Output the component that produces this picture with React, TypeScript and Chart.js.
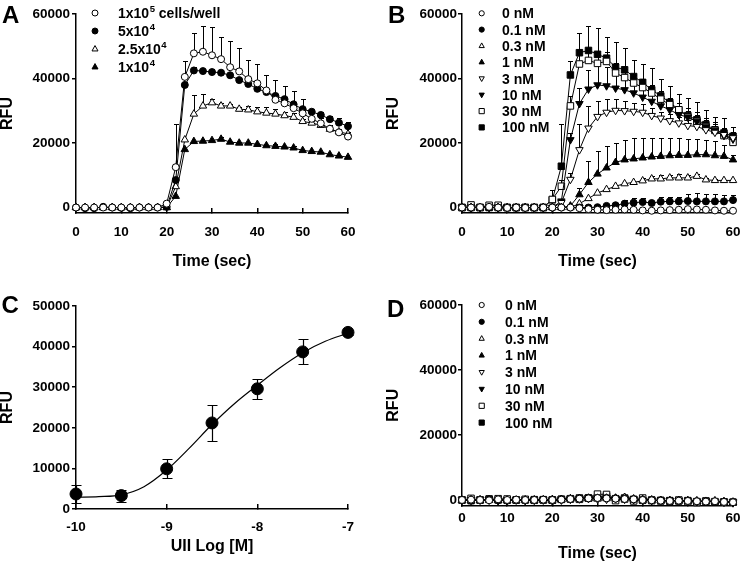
import React, { useEffect, useRef } from 'react';
import { Chart, registerables } from 'chart.js';

Chart.register(...registerables);

const FONT = '"Liberation Sans", Arial, Helvetica, sans-serif';

// ---------------- shared ----------------
const timeSec = [0, 2, 4, 6, 8, 10, 12, 14, 16, 18, 20, 22, 24, 26, 28, 30, 32, 34, 36, 38, 40, 42, 44, 46, 48, 50, 52, 54, 56, 58, 60];
const timeTickStep = 10;
const rfuTicks = [0, 20000, 40000, 60000];

// ---------------- panel A ----------------
const labelsA = ['1x10^5 cells/well', '5x10^4', '2.5x10^4', '1x10^4'];
const a1e5 = [0, 0, 0, 0, 0, 0, 0, 0, 0, 0, 1200, 12500, 40500, 47800, 48300, 47200, 46000, 43500, 42200, 39800, 38500, 36300, 33400, 32300, 30800, 29200, 27500, 26100, 24400, 23300, 22000];
const a1e5Err = [0, 0, 0, 0, 0, 0, 0, 0, 0, 0, 0, 13500, 4800, 6400, 8100, 8700, 7000, 8200, 7400, 6000, 6000, 4800, 6000, 5400, 5400, 4400, 1800, 1500, 1200, 1000, 800];
const a5e4 = [0, -200, -200, 200, 0, -100, -200, 0, 0, 0, 200, 8500, 38000, 42500, 42300, 42000, 41800, 41000, 39500, 38300, 36800, 35800, 34600, 33600, 32000, 30500, 29700, 28700, 27400, 26300, 25200];
const a5e4Err = [0, 0, 0, 0, 0, 0, 0, 0, 0, 0, 0, 0, 1000, 1000, 800, 800, 800, 800, 800, 800, 800, 800, 800, 800, 800, 800, 0, 800, 900, 1400, 1200];
const a25e3 = [0, 0, 0, 0, 0, 0, 0, 0, 0, 0, 0, 6500, 21000, 29000, 31500, 32500, 31500, 31500, 30500, 30300, 29700, 29300, 29000, 28500, 28000, 26700, 26200, 25500, 24300, 23500, 22800];
const a25e3Err = [0, 0, 0, 0, 0, 0, 0, 0, 0, 0, 0, 0, 0, 5900, 3800, 1200, 800, 600, 800, 1200, 1500, 1800, 1500, 1200, 1200, 800, 600, 800, 500, 500, 500];
const a1e4 = [0, 0, 0, 0, 0, 0, 0, 0, 0, 0, 0, 3500, 18000, 20500, 20600, 20800, 21200, 20300, 20000, 20000, 19600, 19200, 19000, 18800, 18500, 17700, 17400, 17200, 16400, 16000, 15600];
const a1e4Err = [0, 0, 0, 0, 0, 0, 0, 0, 0, 0, 0, 0, 0, 0, 0, 0, 700, 0, 0, 0, 0, 0, 700, 0, 600, 0, 0, 0, 0, 0, 0];

// ---------------- panel B ----------------
const labelsNM = ['0 nM', '0.1 nM', '0.3 nM', '1 nM', '3 nM', '10 nM', '30 nM', '100 nM'];
const b0 = [0, 0, 100, 200, 0, -100, 0, -100, 0, 0, 0, 0, 0, -200, -500, -700, -800, -700, -600, -700, -900, -1000, -900, -800, -700, -500, -600, -700, -900, -1000, -1000];
const b01 = [0, -100, 0, 100, 0, 0, -100, 0, 0, 0, 0, 0, 0, 0, 0, 100, 500, 700, 1200, 1500, 1700, 1400, 1800, 1900, 1900, 2000, 1900, 1900, 1900, 1900, 2300];
const b01Err = [0, 0, 0, 0, 0, 0, 0, 0, 0, 0, 0, 0, 0, 0, 0, 0, 0, 0, 1000, 1500, 1200, 0, 1500, 1500, 1500, 2200, 2500, 2300, 2200, 2000, 1500];
const b03 = [0, 0, 0, 0, 0, 0, 0, 0, 0, 0, 0, 0, 0, 1200, 2800, 4500, 5600, 6600, 7400, 7800, 8300, 8900, 8900, 9200, 9200, 9200, 9700, 8600, 8400, 8400, 8400];
const b03Err = [0, 0, 0, 0, 0, 0, 0, 0, 0, 0, 0, 0, 0, 0, 0, 0, 0, 0, 0, 0, 800, 1000, 1200, 1000, 1200, 1000, 800, 500, 500, 0, 0];
const b1 = [0, 0, -100, 0, 0, -100, 0, 0, 0, 0, 0, 0, 500, 4000, 7800, 10400, 12300, 14000, 14800, 15100, 15400, 15700, 15900, 16100, 16200, 16200, 16400, 16400, 16100, 15900, 14800];
const b1Err = [0, 0, 0, 0, 0, 0, 0, 0, 0, 0, 0, 0, 0, 2000, 6500, 7000, 6700, 6000, 6200, 6300, 6200, 5900, 5700, 5500, 5400, 5000, 4800, 4500, 4500, 3500, 1500];
const b3 = [0, 0, 0, 0, 0, -300, 0, 0, -200, 0, 0, 1500, 8700, 17900, 24600, 28200, 29500, 30100, 30000, 29800, 29500, 28500, 27700, 26900, 26200, 25400, 25100, 24100, 23300, 22600, 21600];
const b3Err = [0, 0, 0, 0, 0, 0, 0, 0, 0, 0, 0, 0, 2000, 8000, 7000, 4700, 4100, 3500, 3000, 2500, 2500, 2500, 2000, 2000, 1800, 1800, 1500, 1500, 1500, 1200, 1200];
const b10 = [0, 0, 0, 0, -200, 0, 0, 0, 0, 0, 0, 2000, 21000, 32200, 36700, 38000, 37700, 37000, 36500, 35500, 34200, 32900, 31500, 30300, 28800, 28000, 26700, 25000, 23900, 22300, 21200];
const b10Err = [0, 0, 0, 0, 0, 0, 0, 0, 0, 0, 0, 0, 2000, 5000, 6000, 6500, 6000, 5500, 5000, 4500, 4500, 4000, 4000, 3500, 3500, 3000, 3000, 2800, 2500, 2500, 2200];
const b30 = [0, 800, 0, 700, 700, 0, 0, 0, 0, 0, 2500, 6600, 31500, 44500, 45600, 44700, 45300, 41700, 40300, 38600, 37200, 35500, 33600, 31900, 30300, 28000, 26700, 25100, 23900, 22300, 20200];
const b30Err = [0, 0, 0, 0, 0, 0, 0, 0, 0, 0, 1000, 2000, 3000, 3000, 3000, 3000, 3000, 3000, 2500, 2500, 2500, 2500, 2500, 2000, 2000, 2000, 2000, 2000, 2000, 2000, 2000];
const b100 = [0, 0, 0, 0, 0, 0, 0, 0, 0, 0, 2400, 12800, 41100, 48000, 48700, 47500, 46300, 43500, 42700, 40600, 38800, 36500, 34600, 32600, 30300, 28500, 27200, 25700, 24100, 23100, 22100];
const b100Err = [0, 0, 0, 0, 0, 0, 0, 0, 0, 0, 3000, 13200, 4200, 6200, 7700, 8100, 6700, 7900, 6900, 5200, 5700, 6700, 5300, 5100, 5000, 5400, 5400, 4600, 4100, 4600, 3000];

// ---------------- panel C ----------------
const logConc = [-10, -9.5, -9, -8.5, -8, -7.5, -7];
const rfuMean = [3700, 3300, 9900, 21200, 29600, 38700, 43500];
const rfuSem = [2300, 1500, 2300, 4400, 2500, 3100, 700];
const fitLogConc = [-10, -9.75, -9.5, -9.25, -9, -8.75, -8.5, -8.25, -8, -7.75, -7.5, -7.25, -7];
const fitRfu = [2900, 3050, 3500, 5500, 9600, 15000, 20800, 26000, 30500, 34800, 38500, 41300, 43300];
const doseTicksX = [-10, -9, -8, -7];
const doseTicksY = [0, 10000, 20000, 30000, 40000, 50000];

// ---------------- panel D ----------------
const d0 = [0, 100, 0, -100, 200, 0, 100, 0, 0, 100, 0, 100, 300, 400, 500, 600, 500, 400, 300, 200, 0, -100, -200, -300, -200, -300, -400, -500, -400, -600, -700];
const d01 = [0, -200, -100, 200, 0, -200, 0, -100, 0, 100, 100, 200, 300, 500, 600, 700, 600, 500, 400, 200, 100, -100, -100, -200, -300, -200, -400, -500, -600, -600, -700];
const d03 = [0, 0, 100, 0, -100, 0, 0, 0, 100, 0, 200, 200, 400, 500, 400, 300, 600, 500, 800, 300, 200, 0, -100, -200, -100, -300, -200, -400, -300, -500, -600];
const d1 = [-100, 0, 0, 100, 0, -100, -200, 0, -200, 0, -300, 100, 400, 300, 600, 500, 400, 600, 800, 300, -100, 0, -200, -100, -300, -200, -500, -400, -300, -500, -800];
const d3 = [0, 100, 0, 0, 0, -100, 0, -100, 0, 0, 0, 0, 200, 300, 400, 300, 200, 400, 200, 100, 0, -200, -100, -200, -200, -300, -400, -300, -500, -600, -600];
const d10 = [0, -100, 0, 0, -300, -100, 0, -200, -100, 0, -300, 0, 300, 500, 700, 500, 800, 400, 500, 300, -200, -100, -300, -300, -200, -400, -500, -400, -500, -700, -900];
const d30 = [0, 500, 0, 200, 400, 300, 0, 200, -100, 100, 0, 200, 300, 200, 600, 1800, 1700, -200, 300, -300, 600, -200, -100, -400, 0, -500, -800, -300, -700, -600, -700];
const d100 = [0, -200, 0, 300, 0, -100, 0, 0, 100, 0, 0, 200, 400, 600, 600, 800, 1200, 400, 600, 200, -100, 0, -300, -200, -300, -200, -500, -400, -500, -600, -700];

type Mk = 'co' | 'cf' | 'to' | 'tf' | 'do' | 'df' | 'so' | 'sf';
const markersA: Mk[] = ['co', 'cf', 'to', 'tf'];
const markersNM: Mk[] = ['co', 'cf', 'to', 'tf', 'do', 'df', 'so', 'sf'];

function markerOpts(m: Mk) {
  const filled = m[1] === 'f';
  const shape = m[0];
  const base = { pointBackgroundColor: filled ? '#000' : '#fff', pointBorderColor: '#000', pointBorderWidth: 1 };
  if (shape === 'c') return { ...base, pointStyle: 'circle', pointRadius: 3.5, pointRotation: 0 };
  if (shape === 't') return { ...base, pointStyle: 'triangle', pointRadius: 4.3, pointRotation: 0 };
  if (shape === 'd') return { ...base, pointStyle: 'triangle', pointRadius: 4.3, pointRotation: 180 };
  return { ...base, pointStyle: 'rect', pointRadius: 4.6, pointRotation: 0 };
}

function drawLegendMarker(ctx: CanvasRenderingContext2D, m: Mk, x: number, y: number, s: number) {
  const filled = m[1] === 'f';
  const shape = m[0];
  ctx.beginPath();
  if (shape === 'c') ctx.arc(x, y, s, 0, Math.PI * 2);
  else if (shape === 't') { ctx.moveTo(x, y - s * 1.15); ctx.lineTo(x + s, y + s * 0.65); ctx.lineTo(x - s, y + s * 0.65); ctx.closePath(); }
  else if (shape === 'd') { ctx.moveTo(x, y + s * 1.15); ctx.lineTo(x + s, y - s * 0.65); ctx.lineTo(x - s, y - s * 0.65); ctx.closePath(); }
  else ctx.rect(x - s, y - s, 2 * s, 2 * s);
  ctx.fillStyle = filled ? '#000' : '#fff';
  ctx.fill();
  ctx.lineWidth = 1;
  ctx.strokeStyle = '#000';
  ctx.stroke();
}

function drawLabel(ctx: CanvasRenderingContext2D, text: string, x: number, yBase: number, size: number) {
  const m = text.match(/^(.*?)\^(\d+)(.*)$/);
  ctx.fillStyle = '#000';
  ctx.textAlign = 'left';
  ctx.textBaseline = 'alphabetic';
  ctx.font = `bold ${size}px ${FONT}`;
  if (!m) { ctx.fillText(text, x, yBase); return; }
  ctx.fillText(m[1], x, yBase);
  let cx = x + ctx.measureText(m[1]).width + 0.5;
  ctx.font = `bold ${size * 0.68}px ${FONT}`;
  ctx.fillText(m[2], cx, yBase - size * 0.42);
  cx += ctx.measureText(m[2]).width;
  ctx.font = `bold ${size}px ${FONT}`;
  if (m[3]) ctx.fillText(m[3], cx, yBase);
}

interface LegendSpec { labels: string[]; markers: Mk[]; mx: number; tx: number; y0: number; dy: number; size: number; ms: number; }
interface DecorSpec { letter: string; lx: number; ly: number; legend?: LegendSpec; }

function decorPlugin(spec: DecorSpec) {
  return {
    id: 'decor',
    afterDraw(chart: any) {
      const ctx: CanvasRenderingContext2D = chart.ctx;
      ctx.save();
      ctx.fillStyle = '#000';
      ctx.textAlign = 'left';
      ctx.textBaseline = 'alphabetic';
      ctx.font = `bold 24px ${FONT}`;
      ctx.fillText(spec.letter, spec.lx, spec.ly);
      const lg = spec.legend;
      if (lg) {
        lg.labels.forEach((lab, i) => {
          const y = lg.y0 + i * lg.dy;
          drawLegendMarker(ctx, lg.markers[i], lg.mx, y, lg.ms);
          drawLabel(ctx, lab, lg.tx, y + lg.size * 0.358, lg.size);
        });
      }
      ctx.restore();
    },
  };
}

function errorBarPlugin(cap: number, lw: number) {
  return {
    id: 'errbars',
    beforeDatasetsDraw(chart: any) {
      const ctx: CanvasRenderingContext2D = chart.ctx;
      const yScale = chart.scales.y;
      ctx.save();
      ctx.strokeStyle = '#000';
      ctx.lineWidth = lw;
      chart.data.datasets.forEach((ds: any, i: number) => {
        if (!ds.errUp && !ds.errDown) return;
        const meta = chart.getDatasetMeta(i);
        meta.data.forEach((el: any, j: number) => {
          const v = ds.data[j].y;
          const x = Math.round(el.x) + 0.5;
          const draw = (e: number) => {
            const y1 = Math.round(yScale.getPixelForValue(v + e)) + 0.5;
            ctx.beginPath();
            ctx.moveTo(x, el.y);
            ctx.lineTo(x, y1);
            ctx.moveTo(x - cap / 2, y1);
            ctx.lineTo(x + cap / 2, y1);
            ctx.stroke();
          };
          const up = ds.errUp ? ds.errUp[j] : 0;
          const dn = ds.errDown ? ds.errDown[j] : 0;
          if (up > 0) draw(up);
          if (dn > 0) draw(-dn);
        });
      });
      ctx.restore();
    },
  };
}

// tickLen > 0: marks outside the plot; tickLen < 0: marks inside the plot
function axisBase(tickPad: number, tickLen: number) {
  return {
    grid: { display: true, drawOnChartArea: false, drawTicks: true, tickLength: tickLen, color: '#000', lineWidth: 1.5 },
    border: { display: true, color: '#000', width: 1.5 },
    ticks: {
      color: '#000', padding: tickPad, autoSkip: false, maxRotation: 0,
      font: { family: FONT, size: 13.5, weight: 'bold', lineHeight: 1 },
      callback: (v: any) => String(v),
    },
  };
}

function titleOpts(text: string, padTop: number, padBottom: number) {
  return { display: true, text, color: '#000', padding: { top: padTop, bottom: padBottom }, font: { family: FONT, size: 16, weight: 'bold', lineHeight: 1 } };
}

const setTicks = (vals: number[]) => (sc: any) => { sc.ticks = vals.map((v) => ({ value: v })); };
// fix the x scale box height and keep its edge-label overflow small
const fitX = (h: number) => (sc: any) => { sc.height = h; sc.paddingLeft = 8; sc.paddingRight = 8; };

interface SeriesDef { values: number[]; err?: number[]; marker: Mk; }

interface TimeChartSpec {
  series: SeriesDef[];
  pad: { left: number; top: number; right: number; bottom: number };
  yWidth: number; xHeight: number;
  yMin: number; yMax: number;
  yTitlePad: number; xTitlePadBottom: number;
  yTickPad: number; xTickPad: number;
  decor: DecorSpec;
}

function timeConfig(s: TimeChartSpec): any {
  const xb: any = axisBase(s.xTickPad, -5);
  const yb: any = axisBase(s.yTickPad, 4);
  return {
    type: 'line',
    data: {
      datasets: s.series.map((sd) => ({
        data: timeSec.map((t, i) => ({ x: t, y: sd.values[i] })),
        borderColor: '#000', borderWidth: 1, tension: 0, showLine: true, clip: false,
        errUp: sd.err,
        ...markerOpts(sd.marker),
      })),
    },
    options: {
      responsive: false, animation: false, events: [],
      layout: { padding: s.pad },
      plugins: { legend: { display: false }, tooltip: { enabled: false } },
      scales: {
        x: {
          type: 'linear', min: timeSec[0], max: timeSec[timeSec.length - 1],
          ...xb, ticks: { ...xb.ticks, stepSize: timeTickStep },
          title: titleOpts('Time (sec)', 0, s.xTitlePadBottom),
          afterFit: fitX(s.xHeight),
        },
        y: {
          type: 'linear', min: s.yMin, max: s.yMax,
          ...yb,
          title: titleOpts('RFU', s.yTitlePad, 0),
          afterBuildTicks: setTicks(rfuTicks),
          afterFit: (sc: any) => { sc.width = s.yWidth; },
        },
      },
    },
    plugins: [errorBarPlugin(5, 1), decorPlugin(s.decor)],
  };
}

function doseConfig(): any {
  const xb: any = axisBase(16.8, -5);
  const yb: any = axisBase(2, 4);
  return {
    type: 'line',
    data: {
      datasets: [
        {
          data: logConc.map((x, i) => ({ x, y: rfuMean[i] })),
          showLine: false, clip: false,
          pointStyle: 'circle', pointRadius: 6, pointBackgroundColor: '#000', pointBorderColor: '#000', pointBorderWidth: 1,
          errUp: rfuSem, errDown: rfuSem,
        },
        {
          data: fitLogConc.map((x, i) => ({ x, y: fitRfu[i] })),
          borderColor: '#000', borderWidth: 1.2, pointRadius: 0, cubicInterpolationMode: 'monotone', clip: false,
        },
      ],
    },
    options: {
      responsive: false, animation: false, events: [],
      layout: { padding: { left: 0, top: 26, right: 22, bottom: 0 } },
      plugins: { legend: { display: false }, tooltip: { enabled: false } },
      scales: {
        x: {
          type: 'linear', min: logConc[0], max: logConc[logConc.length - 1],
          ...xb,
          title: titleOpts('UII Log [M]', 0, 9),
          afterBuildTicks: setTicks(doseTicksX),
          afterFit: fitX(55),
        },
        y: {
          type: 'linear', min: 0, max: 50000,
          ...yb,
          title: titleOpts('RFU', 0, 0),
          afterBuildTicks: setTicks(doseTicksY),
          afterFit: (sc: any) => { sc.width = 76; },
        },
      },
    },
    plugins: [errorBarPlugin(10, 1.2), decorPlugin({ letter: 'C', lx: 1.5, ly: 33 })],
  };
}

export default function App() {
  const refA = useRef<HTMLCanvasElement>(null);
  const refB = useRef<HTMLCanvasElement>(null);
  const refC = useRef<HTMLCanvasElement>(null);
  const refD = useRef<HTMLCanvasElement>(null);

  useEffect(() => {
    const charts: Chart[] = [];
    const seriesA: SeriesDef[] = [
      { values: a1e5, err: a1e5Err, marker: markersA[0] },
      { values: a5e4, err: a5e4Err, marker: markersA[1] },
      { values: a25e3, err: a25e3Err, marker: markersA[2] },
      { values: a1e4, err: a1e4Err, marker: markersA[3] },
    ];
    const seriesB: SeriesDef[] = [
      { values: b0, marker: markersNM[0] },
      { values: b01, err: b01Err, marker: markersNM[1] },
      { values: b03, err: b03Err, marker: markersNM[2] },
      { values: b1, err: b1Err, marker: markersNM[3] },
      { values: b3, err: b3Err, marker: markersNM[4] },
      { values: b10, err: b10Err, marker: markersNM[5] },
      { values: b30, err: b30Err, marker: markersNM[6] },
      { values: b100, err: b100Err, marker: markersNM[7] },
    ];
    const seriesD: SeriesDef[] = [d0, d01, d03, d1, d3, d10, d30, d100].map((v, i) => ({ values: v, marker: markersNM[i] }));

    charts.push(new Chart(refA.current as HTMLCanvasElement, timeConfig({
      series: seriesA,
      pad: { left: 0, top: 14, right: 22, bottom: 0 },
      yWidth: 76, xHeight: 67, yMin: -1700, yMax: 60000,
      yTitlePad: 0, xTitlePadBottom: 10, yTickPad: 2, xTickPad: 17.5,
      decor: { letter: 'A', lx: 2, ly: 23, legend: { labels: labelsA, markers: markersA, mx: 95, tx: 118, y0: 13, dy: 18, size: 14, ms: 3 } },
    })));
    charts.push(new Chart(refB.current as HTMLCanvasElement, timeConfig({
      series: seriesB,
      pad: { left: 0, top: 14, right: 9, bottom: 0 },
      yWidth: 92, xHeight: 67, yMin: -1700, yMax: 60000,
      yTitlePad: 16, xTitlePadBottom: 10, yTickPad: 1, xTickPad: 17.5,
      decor: { letter: 'B', lx: 18, ly: 23, legend: { labels: labelsNM, markers: markersNM, mx: 111.7, tx: 132, y0: 13.3, dy: 16.3, size: 14, ms: 2.6 } },
    })));
    charts.push(new Chart(refC.current as HTMLCanvasElement, doseConfig()));
    charts.push(new Chart(refD.current as HTMLCanvasElement, timeConfig({
      series: seriesD,
      pad: { left: 0, top: 25, right: 9, bottom: 0 },
      yWidth: 92, xHeight: 58.5, yMin: -1700, yMax: 60000,
      yTitlePad: 16, xTitlePadBottom: 2, yTickPad: 1, xTickPad: 11.3,
      decor: { letter: 'D', lx: 17, ly: 37, legend: { labels: labelsNM, markers: markersNM, mx: 111.7, tx: 135, y0: 25, dy: 16.8, size: 14, ms: 2.6 } },
    })));
    return () => charts.forEach((c) => c.destroy());
  }, []);

  const cv = (left: number, top: number, w: number, h: number): React.CSSProperties => ({ position: 'absolute', left, top, width: w, height: h });

  return (
    <div style={{ position: 'absolute', left: 0, top: 0, width: 742, height: 564, background: '#fff', overflow: 'hidden' }}>
      <canvas ref={refA} width={370} height={280} style={cv(0, 0, 370, 280)} />
      <canvas ref={refB} width={372} height={280} style={cv(370, 0, 372, 280)} />
      <canvas ref={refC} width={370} height={284} style={cv(0, 280, 370, 284)} />
      <canvas ref={refD} width={372} height={284} style={cv(370, 280, 372, 284)} />
    </div>
  );
}
